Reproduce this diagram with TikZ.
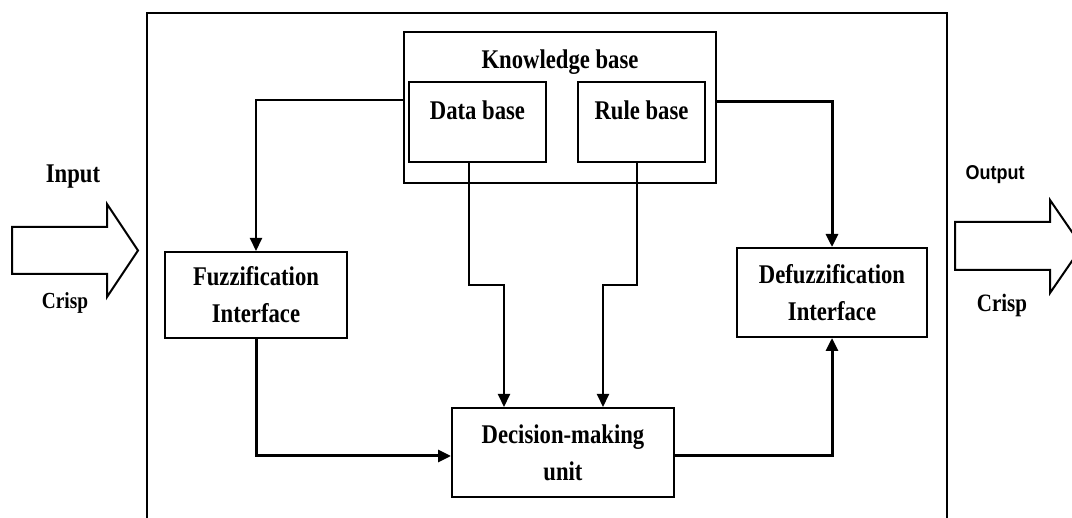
\documentclass[tikz,border=0pt]{standalone}
\usepackage{fontspec}
\setmainfont{Liberation Serif}
\newfontfamily\boxfont{Liberation Serif}[FakeStretch=0.84]
\newfontfamily\outfont{Liberation Sans}[FakeStretch=0.9]
\usetikzlibrary{arrows.meta,positioning}

\begin{document}
\begin{tikzpicture}[
			x=1pt, y=-1pt,
			blk/.style={draw=black,line width=2pt,fill=white,inner sep=0pt,align=center,font=\boxfont\fontsize{27}{37}\selectfont\bfseries},
			lbl/.style={inner sep=0pt,align=center,font=\boxfont\fontsize{27}{37}\selectfont\bfseries},
			wire/.style={draw=black,line width=2pt},
			feed/.style={draw=black,line width=3pt},
			tip/.style={-{Triangle[length=13pt,width=12pt]}}
			]
			\useasboundingbox (0,0) rectangle (1072,518);
			% frame, open at the bottom
			\draw[wire] (147,518) -- (147,13) -- (947,13) -- (947,518);
			% knowledge base
			\node[blk,minimum width=312,minimum height=151] (kb) at (560,107.5) {};
			\node[lbl] (kbt) at (560,62) {Knowledge base};
			\node[blk,minimum width=137,minimum height=80] (db) at (477.5,122) {};
			\node[lbl] (dbt) at (477.5,110) {Data base};
			\node[blk,minimum width=127,minimum height=80] (rb) at (641.5,122) {};
			\node[lbl] (rbt) at (641.5,110) {Rule base};
			% interfaces and decision unit
			\node[blk,minimum width=182,minimum height=86] (fuzz) at (256,295) {Fuzzification\\Interface};
			\node[blk,minimum width=190,minimum height=89] (defuzz) at (832,292.5) {Defuzzification\\Interface};
			\node[blk,minimum width=222,minimum height=89] (dmu) at (563,452.5) {Decision-making\\unit};
			% input / output
			\node[lbl] (inl) at (73,177) {Input};
			\node[lbl,font=\boxfont\fontsize{23}{26}\selectfont\bfseries] (incr) at (65,303) {Crisp};
			\node[lbl,font=\outfont\fontsize{20}{24}\selectfont\bfseries] (outl) at (995,175) {Output};
			\node[lbl,font=\boxfont\fontsize{25}{28}\selectfont\bfseries] (outcr) at (1002,305) {Crisp};
			\draw[wire] (12,227) -- (107,227) -- (107,204) -- (138,250.5) -- (107,297) -- (107,274) -- (12,274) -- cycle;
			\draw[wire] (955,222) -- (1050,222) -- (1050,200) -- (1082,246.5) -- (1050,293) -- (1050,270) -- (955,270) -- cycle;
			% connectors
			\draw[wire,tip] ([yshift=7.5pt]kb.west) -| (fuzz.north);
			\draw[feed,tip] ([yshift=5.5pt]kb.east) -| (defuzz.north);
			\draw[wire,tip] ([xshift=-8.5pt]db.south) -- ++(0,122) -| ([xshift=-59pt]dmu.north);
			\draw[wire,tip] ([xshift=-4.5pt]rb.south) -- ++(0,122) -| ([xshift=40pt]dmu.north);
			\draw[feed,tip] (fuzz.south) |- ([yshift=-3.5pt]dmu.west);
			\draw[feed,tip] ([yshift=-3.5pt]dmu.east) -| (defuzz.south);
		\end{tikzpicture}
\end{document}
